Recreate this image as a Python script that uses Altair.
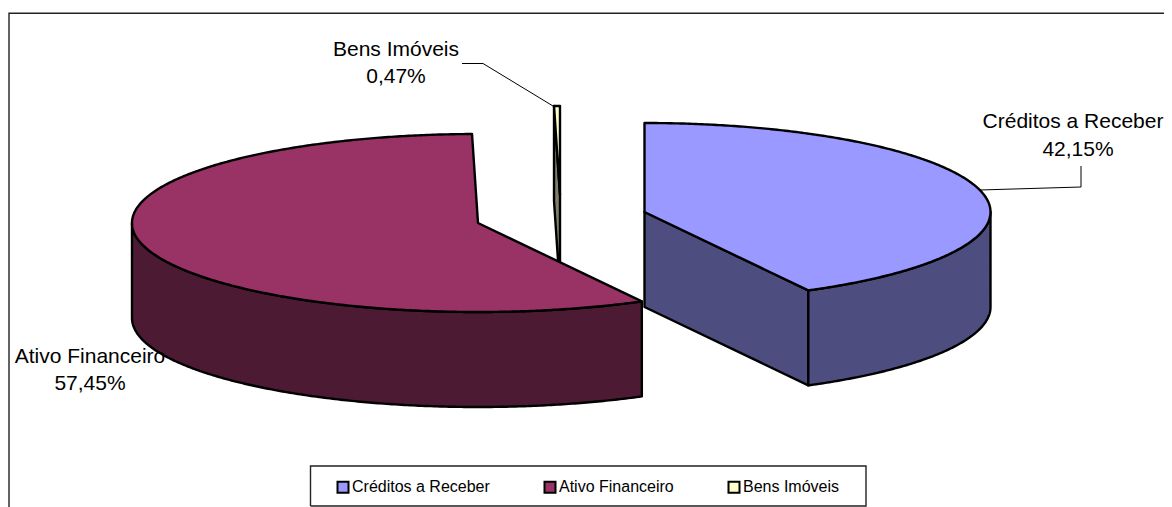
import math
import altair as alt

names = ["Créditos a Receber", "Ativo Financeiro", "Bens Imóveis"]
shares = [42.15, 57.45, 0.47]
pct_labels = ["42,15%", "57,45%", "0,47%"]
top_colors = ["#9999FF", "#993366", "#FFFFCC"]
wall_colors = ["#4D4D80", "#4D1A33", "#808066"]

# exploded 3D-pie geometry (page pixels)
centers = [(644.5, 212), (478, 223), (560, 195)]
RX, RY, DEPTH = 346, 89, 95
SLIVER_TRIM = 0.45  # degrees: the drawn sliver is a little narrower than its share

def pt(c, deg, dz=0):
    t = math.radians(deg)
    return [c[0] + RX * math.sin(t), c[1] - RY * math.cos(t) + dz]

def arc(c, a, b, dz=0):
    n = max(2, int(abs(b - a) * 2) + 1)
    return [pt(c, a + (b - a) * i / (n - 1), dz) for i in range(n)]

def poly(coords, **props):
    return {"type": "Feature", "properties": props,
            "geometry": {"type": "Polygon", "coordinates": [coords + [coords[0]]]}}

def line(coords):
    return {"type": "Feature", "properties": {},
            "geometry": {"type": "LineString", "coordinates": coords}}

a1 = shares[0] * 3.6
a2 = a1 + shares[1] * 3.6 + SLIVER_TRIM
spans = [(0, a1), (a1, a2), (a2, 360)]

tops = [poly([list(centers[i])] + arc(centers[i], *spans[i]), name=names[i]) for i in [2, 0, 1]]

walls = []
c = centers[2]
walls.append(poly([pt(c, a2), [c[0], c[1]], [c[0], c[1] + DEPTH], pt(c, a2, DEPTH)], fill=wall_colors[2]))
c = centers[0]
walls.append(poly([[c[0], c[1]], pt(c, a1), pt(c, a1, DEPTH), [c[0], c[1] + DEPTH]], fill=wall_colors[0]))
walls.append(poly(arc(c, 90, a1) + arc(c, a1, 90, DEPTH), fill=wall_colors[0]))
c = centers[1]
walls.append(poly(arc(c, a1, 270) + arc(c, 270, a1, DEPTH), fill=wall_colors[1]))

proj = alt.Projection(type="identity", scale=1, translate=[-8, -8])

frame = alt.Chart(alt.Data(values=[
    line([[9, 530], [9, 13.3], [1190, 13.3]]),
    line([[310.5, 506], [310.5, 466], [866, 466], [866, 506], [310.5, 506]]),
])).mark_geoshape(filled=False, stroke="#222222", strokeWidth=1.4).project(**proj.to_dict())

leaders = alt.Chart(alt.Data(values=[
    line([[462, 63.5], [483, 63.5], [553, 106]]),
    line([[980, 190], [1081, 187], [1081, 166]]),
])).mark_geoshape(filled=False, stroke="black", strokeWidth=1).project(**proj.to_dict())

wall_layer = alt.Chart(alt.Data(values=walls)).mark_geoshape(
    stroke="black", strokeWidth=2.4, strokeJoin="round"
).encode(fill=alt.Fill("properties.fill:N", scale=None)).project(**proj.to_dict())

top_layer = alt.Chart(alt.Data(values=tops)).mark_geoshape(
    stroke="black", strokeWidth=2.4, strokeJoin="round"
).encode(
    fill=alt.Fill(
        "properties.name:N",
        scale=alt.Scale(domain=names, range=top_colors),
        legend=alt.Legend(
            title=None, orient="none", legendX=327, legendY=471, direction="horizontal",
            columns=3, symbolType="square", symbolSize=121,
            symbolStrokeColor="black", symbolStrokeWidth=2, symbolOpacity=1,
            labelFont="Liberation Sans", labelFontSize=16, labelColor="black",
            labelOffset=1, columnPadding=50, padding=0,
        ),
    )
).project(**proj.to_dict())

label_pos = [(1073, 1078, 122, 150), (90, 90, 357, 384), (396, 396, 50, 77)]
text_layers = []
for i, (x1, x2, y1, y2) in enumerate(label_pos):
    for txt, x, y in ((names[i], x1, y1), (pct_labels[i], x2, y2)):
        text_layers.append(
            alt.Chart(alt.Data(values=[{"t": txt}])).mark_text(
                font="Liberation Sans", fontSize=21, color="black", align="center", baseline="middle"
            ).encode(text="t:N", x=alt.value(x - 8), y=alt.value(y - 8))
        )

chart = alt.layer(frame, wall_layer, top_layer, leaders, *text_layers).properties(
    width=1156, height=499, padding=0, background="white",
    autosize=alt.AutoSizeParams(type="none"),
).configure_view(stroke=None)

chart.save("out.html", embed_options={"renderer": "svg", "actions": False})
